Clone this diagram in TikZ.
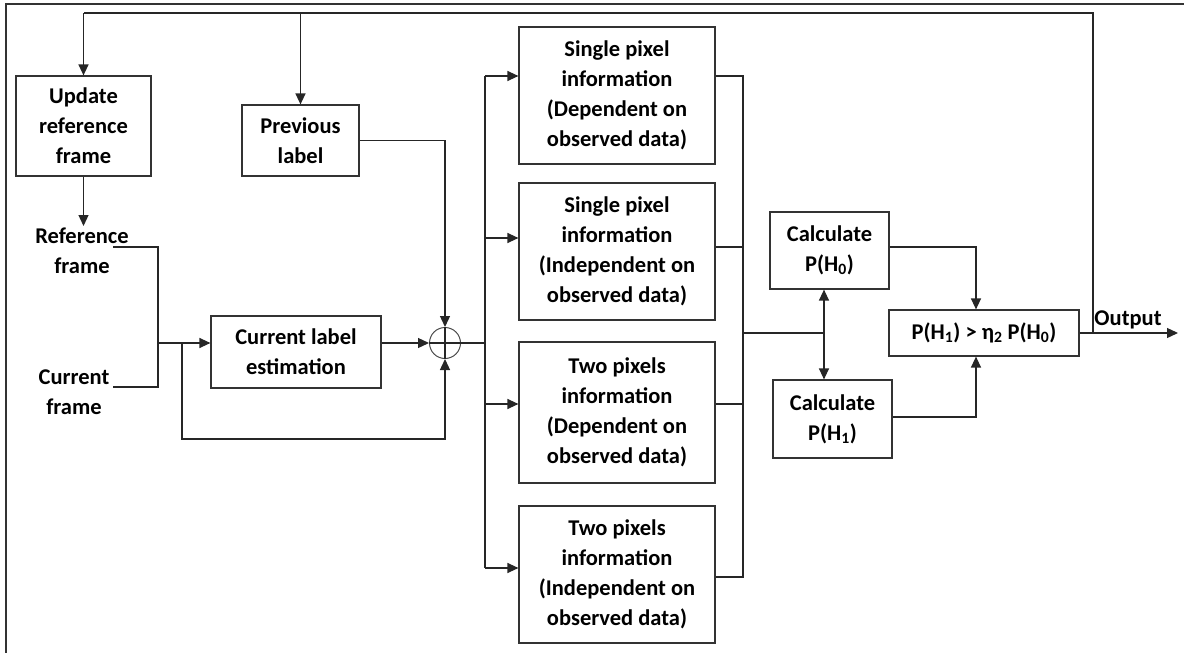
\documentclass[tikz,border=0pt]{standalone}
\usepackage{fontspec}
\setmainfont{Carlito}
\usetikzlibrary{arrows.meta,calc}
\begin{document}
\begin{tikzpicture}[x=1pt,y=-1pt,
  every node/.style={font=\bfseries\fontsize{22.5}{30}\selectfont, align=center, inner sep=0pt},
  blk/.style={draw=black!80, line width=1.2pt, rectangle},
  txt/.style={text=black},
  con/.style={draw=black!85, line width=1.3pt},
  arr/.style={con, -{Triangle[length=11pt,width=10pt]}},
  darr/.style={con, {Triangle[length=11pt,width=10pt]}-{Triangle[length=11pt,width=10pt]}}]
\useasboundingbox (0,0) rectangle (1184,653);
% frame (top and left)
\draw[draw=black!80, line width=1.4pt] (6,653) -- (6,4) -- (1184,4);

% nodes
\node[blk, minimum width=135pt, minimum height=100pt] (upd) at (83.5,126) {Update\\reference\\frame};
\node[blk, minimum width=117pt, minimum height=71pt] (prev) at (300.5,140.5) {Previous\\label};
\node[txt] (reft) at (82,251) {Reference\\frame};
\node[txt] (curt) at (74,392) {Current\\frame};
\node[blk, minimum width=170pt, minimum height=72pt] (cle) at (296,352) {Current label\\estimation};
\node[draw=black!70, line width=1pt, circle, minimum size=31pt] (sum) at (445,343) {};
\node[blk, minimum width=196pt, minimum height=137pt] (b1) at (617,95.5) {Single pixel\\information\\(Dependent on\\observed data)};
\node[blk, minimum width=196pt, minimum height=137pt] (b2) at (617,251.5) {Single pixel\\information\\(Independent on\\observed data)};
\node[blk, minimum width=196pt, minimum height=141pt] (b3) at (617,412.5) {Two pixels\\information\\(Dependent on\\observed data)};
\node[blk, minimum width=196pt, minimum height=137pt] (b4) at (617,574.5) {Two pixels\\information\\(Independent on\\observed data)};
\node[blk, minimum width=119pt, minimum height=77pt] (ch0) at (829.5,250.5) {Calculate\\P(H\textsubscript{0})};
\node[blk, minimum width=119pt, minimum height=78pt] (ch1) at (832.5,419) {Calculate\\P(H\textsubscript{1})};
\node[blk, minimum width=190pt, minimum height=46pt] (fin) at (984,333) {P(H\textsubscript{1}) > η\textsubscript{2} P(H\textsubscript{0})};
\node[txt] (outl) at (1128,320) {Output};

% coordinates
\coordinate (fbx) at (1093,333);
\coordinate (tr) at (1093,13);
\coordinate (tl) at (83.5,13);
\coordinate (refend) at (83.5,226);
\coordinate (ra) at (113,247);
\coordinate (rb) at (158,247);
\coordinate (rc) at (158,387);
\coordinate (rd) at (113,387);
\coordinate (jn) at (158,343);
\coordinate (lp1) at (182,343);
\coordinate (lb) at (182,439);
\coordinate (busm) at (485,343);
\coordinate (bl1) at (485,76);
\coordinate (bl2) at (485,238);
\coordinate (bl3) at (485,404);
\coordinate (bl4) at (485,568);
\coordinate (br1) at (743,76);
\coordinate (br2) at (743,247);
\coordinate (br3) at (743,404);
\coordinate (br4) at (743,577);
\coordinate (dj) at (824,333);
\coordinate (brm) at (743,333);
\coordinate (c0) at (976,247);
\coordinate (c1) at (976,417);
\coordinate (outend) at (1178,333);

% connectors
\draw[con] (fbx) -- (tr) -- (tl);
\draw[arr] (tl) -- (upd.north);
\draw[arr] (prev.north |- tr) -- (prev.north);
\draw[arr] (upd.south) -- (refend);
\draw[con] (ra) -- (rb) -- (rc) -- (rd);
\draw[arr] (jn) -- (jn -| cle.west);
\draw[arr] (cle.east |- sum.west) -- (sum.west);
\draw[arr] (prev.east) -| (sum.north);
\draw[arr] (lp1) -- (lb) -| (sum.south);
\draw[con] (sum.north) -- (sum.south);
\draw[con] (sum.west) -- (busm);
\draw[con] (bl1) -- (bl4);
\draw[arr] (bl1) -- (bl1 -| b1.west);
\draw[arr] (bl2) -- (bl2 -| b2.west);
\draw[arr] (bl3) -- (bl3 -| b3.west);
\draw[arr] (bl4) -- (bl4 -| b4.west);
\draw[con] (br1 -| b1.east) -- (br1) -- (br4) -- (br4 -| b4.east);
\draw[con] (br2 -| b2.east) -- (br2);
\draw[con] (br3 -| b3.east) -- (br3);
\draw[con] (brm) -- (dj);
\draw[arr] (dj) -- (dj |- ch0.south);
\draw[arr] (dj) -- (dj |- ch1.north);
\draw[arr] (c0 -| ch0.east) -- (c0) -- (c0 |- fin.north);
\draw[arr] (c1 -| ch1.east) -- (c1) -- (c1 |- fin.south);
\draw[arr] (fin.east) -- (outend);
\end{tikzpicture}
\end{document}
